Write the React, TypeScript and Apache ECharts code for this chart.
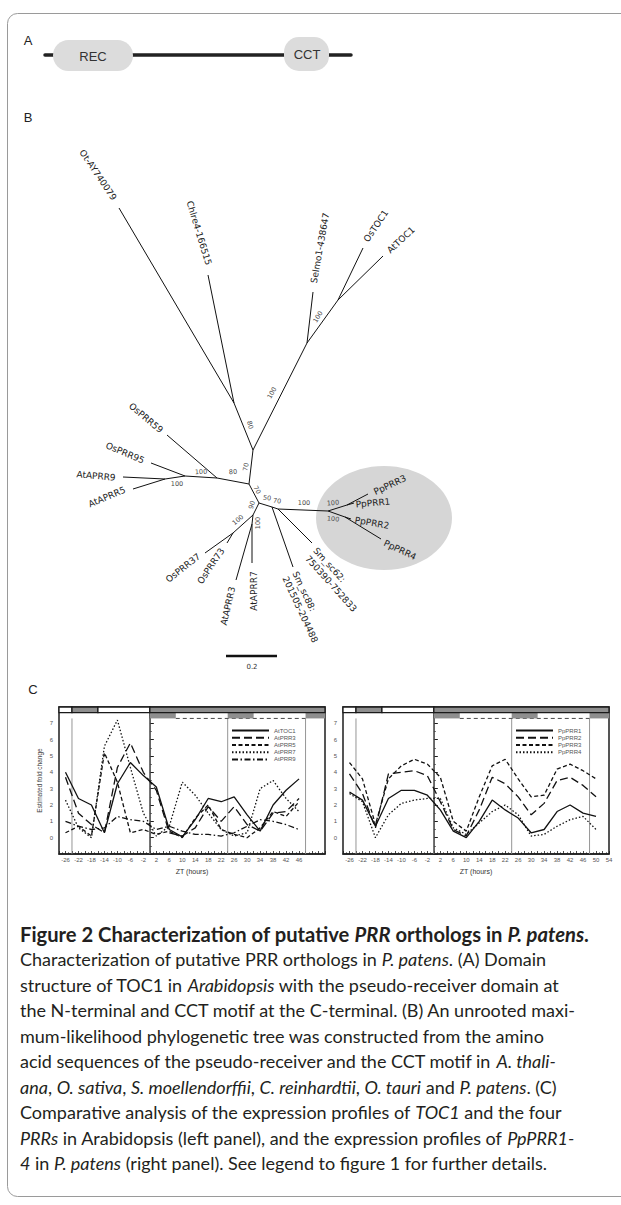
import React, { useEffect, useRef } from "react";
import * as echarts from "echarts";

const W = 621;
const H = 1205;

// ---------------- Panel C data ----------------
const hoursAt = [-26, -22, -18, -14, -10, -6, -2, 2, 6, 10, 14, 18, 22, 26, 30, 34, 38, 42, 46];
const atNames = ["AtTOC1", "AtPRR3", "AtPRR5", "AtPRR7", "AtPRR9"];
const atTOC1 = [4.0, 2.4, 2.0, 0.3, 3.3, 4.6, 3.8, 3.1, 0.5, 0.05, 1.1, 2.4, 2.2, 2.5, 1.4, 0.4, 2.0, 2.9, 3.6];
const atPRR3 = [3.7, 1.5, 0.8, 0.3, 4.3, 5.8, 4.0, 2.9, 0.3, 0.1, 0.6, 1.9, 1.0, 1.9, 0.8, 0.4, 1.5, 1.6, 2.4];
const atPRR5 = [0.3, 0.7, 0.1, 5.2, 3.4, 0.3, 0.5, 0.2, 0.4, 0.0, 1.2, 2.0, 0.5, 0.2, 0.0, 0.6, 1.6, 1.3, 2.2];
const atPRR7 = [2.3, 0.6, 0.0, 5.6, 7.2, 4.3, 1.5, 0.1, 0.7, 3.4, 2.6, 1.5, 0.5, 0.1, 0.3, 3.0, 3.5, 2.4, 1.6];
const atPRR9 = [1.0, 0.7, 0.5, 0.6, 1.3, 1.1, 1.0, 0.5, 0.7, 0.4, 0.2, 0.2, 0.1, 0.3, 0.7, 1.1, 1.0, 0.8, 0.5];

const hoursPp = [-26, -22, -18, -14, -10, -6, -2, 2, 6, 10, 14, 18, 22, 26, 30, 34, 38, 42, 46, 50];
const ppNames = ["PpPRR1", "PpPRR2", "PpPRR3", "PpPRR4"];
const ppPRR1 = [2.8, 2.3, 0.7, 2.4, 2.9, 2.9, 2.6, 1.7, 0.4, 0.0, 1.0, 2.3, 1.7, 1.2, 0.3, 0.5, 1.6, 2.0, 1.5, 1.3];
const ppPRR2 = [3.9, 2.7, 0.6, 3.9, 4.0, 4.1, 3.8, 2.2, 0.5, 0.1, 1.7, 3.7, 3.3, 2.5, 1.4, 2.1, 3.5, 3.7, 3.2, 2.5];
const ppPRR3 = [4.6, 3.6, 0.8, 3.6, 4.4, 4.8, 4.5, 3.7, 1.0, 0.4, 2.5, 4.4, 4.8, 3.6, 2.5, 2.6, 4.2, 4.5, 4.1, 3.6];
const ppPRR4 = [2.7, 2.2, 0.0, 1.4, 2.1, 2.3, 2.4, 2.4, 0.6, 0.2, 0.9, 1.6, 2.0, 1.4, 0.1, 0.2, 0.7, 1.1, 1.3, 0.5];

const xLabelsAt = [-26, -22, -18, -14, -10, -6, -2, 2, 6, 10, 14, 18, 22, 26, 30, 34, 38, 42, 46];
const xLabelsPp = [-26, -22, -18, -14, -10, -6, -2, 2, 6, 10, 14, 18, 22, 26, 30, 34, 38, 42, 46, 50, 54];
const yLabels = [0, 1, 2, 3, 4, 5, 6, 7];

// light regime: [start, end, dark(1)/light(0)]
const lightRegime = [
  [-28, -24, 0],
  [-24, -16, 1],
  [-16, 0, 0],
  [0, 54, 1],
];
const subjectiveNights = [
  [0, 8],
  [24, 32],
  [48, 54],
];
const dashedSpans = [[8, 48]];
const dayBoundaries = [-24, 0, 24, 48];

// ---------------- Panel B (tree) data ----------------
const leafNames = [
  "Ot-AY740079", "Chlre4-166515", "Selmo1-438647", "OsTOC1", "AtTOC1",
  "OsPRR59", "OsPRR95", "AtAPRR9", "AtAPRR5", "OsPRR37", "OsPRR73",
  "AtAPRR3", "AtAPRR7", "PpPRR3", "PpPRR1", "PpPRR2", "PpPRR4",
];
const smLabels = [["Sm_sc88:", "201505-204488"], ["Sm_sc62:", "750390-752833"]];
const bootstrapValues = [80, 100, 100, 70, 80, 100, 100, 70, 90, 100, 100, 50, 70, 100, 100, 100];
const scaleBarLabel = "0.2";

// tree layout (pixel positions)
const nodePos: Record<string, [number, number]> = {
  N1: [234, 403], N2: [253, 450], R1: [307, 343], R2: [338, 300], N3: [249, 484],
  N4: [217, 478], N5: [185, 476], N6: [165, 479], N7: [259, 503], N8: [253, 515],
  N9: [233, 533], N10: [252, 524], N11: [272, 507], N12: [278, 509], N13: [328, 511],
  N14: [347, 505], N15: [345, 517],
  Ot: [119, 208], Chlre: [208, 275], Selmo: [313, 292], OsTOC1: [363, 248], AtTOC1: [383, 256],
  OsPRR59: [167, 435], OsPRR95: [151, 463], AtAPRR9: [123, 477], AtAPRR5: [133, 489],
  OsPRR37: [205, 553], OsPRR73: [227, 543], AtAPRR3: [236, 580], AtAPRR7: [252, 563],
  Sm88: [293, 567], Sm62: [312, 543], PpPRR3: [368, 494], PpPRR1: [354, 503],
  PpPRR2: [351, 519], PpPRR4: [381, 539],
};
const edges: [string, string][] = [
  ["N2", "N1"], ["N1", "Ot"], ["N1", "Chlre"], ["N2", "R1"], ["R1", "Selmo"], ["R1", "R2"],
  ["R2", "OsTOC1"], ["R2", "AtTOC1"], ["N2", "N3"], ["N3", "N4"], ["N4", "OsPRR59"], ["N4", "N5"],
  ["N5", "OsPRR95"], ["N5", "N6"], ["N6", "AtAPRR9"], ["N6", "AtAPRR5"], ["N3", "N7"], ["N7", "N8"],
  ["N8", "N9"], ["N9", "OsPRR37"], ["N9", "OsPRR73"], ["N8", "N10"], ["N10", "AtAPRR3"],
  ["N10", "AtAPRR7"], ["N7", "N11"], ["N11", "Sm88"], ["N11", "N12"], ["N12", "Sm62"],
  ["N12", "N13"], ["N13", "N14"], ["N14", "PpPRR3"], ["N14", "PpPRR1"], ["N13", "N15"],
  ["N15", "PpPRR2"], ["N15", "PpPRR4"],
];
// leaf label layout: [cx, cy, rotationDeg]
const leafLayout: [number, number, number][] = [
  [98, 175, -56], [199, 233, -73], [320, 248, 80], [376, 226, 56], [401, 240, 43],
  [146, 418, -40], [125, 453, -23], [96, 476, -5], [107, 497, 23], [183, 568, 38],
  [211, 566, 56], [228, 606, 77], [254, 591, 90], [390, 485, 25], [373, 503, 5],
  [372, 523, -10], [400, 550, -25],
];
// sm labels: anchor of first line, second line, rotation
const smLayout: [number, number, number, number, number][] = [
  [295, 572, 285, 577, -65],
  [315, 549, 307, 557, -48],
];
const bootLayout: [number, number, number][] = [
  [250, 425, -75], [272, 393, 60], [318, 317, 58], [246, 467, 80], [233, 472, 5],
  [201, 472, 3], [177, 484, 0], [257, 490, -60], [252, 505, 75], [238, 520, 40],
  [258, 523, 90], [267, 498, -8], [277, 501, -8], [304, 503, 0], [333, 503, 5], [333, 519, -5],
];

// ---------------- Caption ----------------
const captionTitle = "{b|Figure 2 Characterization of putative }{bi|PRR}{b| orthologs in }{bi|P. patens}.";
const captionLines = [
  "Characterization of putative PRR orthologs in {i|P. patens}. (A) Domain",
  "structure of TOC1 in {i|Arabidopsis} with the pseudo-receiver domain at",
  "the N-terminal and CCT motif at the C-terminal. (B) An unrooted maxi-",
  "mum-likelihood phylogenetic tree was constructed from the amino",
  "acid sequences of the pseudo-receiver and the CCT motif in {i|A. thali-}",
  "{i|ana}, {i|O. sativa}, {i|S. moellendorffii}, {i|C. reinhardtii}, {i|O. tauri} and {i|P. patens}. (C)",
  "Comparative analysis of the expression profiles of {i|TOC1} and the four",
  "{i|PRRs} in Arabidopsis (left panel), and the expression profiles of {i|PpPRR1-}",
  "{i|4} in {i|P. patens} (right panel). See legend to figure 1 for further details.",
];

const rad = (d: number) => (d * Math.PI) / 180;
const INK = "#1e1e1e";
const BAR_TOP = 8;
const BAR_MID = 7.65;
const BAR_BOT = 7.3;
const Y_MIN = -1;

function buildOption() {
  const graphic: any[] = [];
  // frame
  graphic.push({
    type: "rect",
    shape: { x: 7.5, y: 13.5, width: 700, height: 1183, r: 10 },
    style: { fill: "none", stroke: "#9a9a9a", lineWidth: 1 },
  });
  const panelFont = { fontFamily: "Liberation Sans", fontSize: 13, fill: "#222" };
  graphic.push({ type: "text", x: 28, y: 40, style: { ...panelFont, text: "A", align: "center", verticalAlign: "middle" } });
  graphic.push({ type: "text", x: 28, y: 117, style: { ...panelFont, text: "B", align: "center", verticalAlign: "middle" } });
  graphic.push({ type: "text", x: 33, y: 689, style: { ...panelFont, text: "C", align: "center", verticalAlign: "middle" } });

  // Panel A
  graphic.push({
    type: "line",
    shape: { x1: 45, y1: 55, x2: 351, y2: 55 },
    style: { stroke: "#222", lineWidth: 3.5, lineCap: "round" },
  });
  graphic.push({ type: "rect", shape: { x: 53, y: 40, width: 80, height: 31, r: 15.5 }, style: { fill: "#dcdcdc" } });
  graphic.push({ type: "rect", shape: { x: 284, y: 37, width: 45, height: 34, r: 15 }, style: { fill: "#dcdcdc" } });
  graphic.push({ type: "text", x: 93, y: 56, style: { ...panelFont, fill: "#333", text: "REC", align: "center", verticalAlign: "middle" } });
  graphic.push({ type: "text", x: 307, y: 54, style: { ...panelFont, fill: "#333", text: "CCT", align: "center", verticalAlign: "middle" } });

  // Panel B: ellipse highlight
  graphic.push({ type: "ellipse", shape: { cx: 384, cy: 518, rx: 68, ry: 52 }, style: { fill: "#d6d6d6" } });
  edges.forEach(([a, b]) => {
    const p = nodePos[a];
    const q = nodePos[b];
    graphic.push({
      type: "line",
      shape: { x1: p[0], y1: p[1], x2: q[0], y2: q[1] },
      style: { stroke: "#111", lineWidth: 1 },
    });
  });
  const leafFont = { fontFamily: "DejaVu Sans", fontSize: 9, fill: "#222" };
  leafNames.forEach((name, i) => {
    const [x, y, r] = leafLayout[i];
    graphic.push({
      type: "text", x, y, rotation: rad(r),
      style: { ...leafFont, text: name, align: "center", verticalAlign: "middle" },
    });
  });
  smLabels.forEach((lines, i) => {
    const [x1, y1, x2, y2, r] = smLayout[i];
    graphic.push({ type: "text", x: x1, y: y1, rotation: rad(r), style: { ...leafFont, text: lines[0], align: "left", verticalAlign: "middle" } });
    graphic.push({ type: "text", x: x2, y: y2, rotation: rad(r), style: { ...leafFont, text: lines[1], align: "left", verticalAlign: "middle" } });
  });
  bootstrapValues.forEach((v, i) => {
    const [x, y, r] = bootLayout[i];
    graphic.push({
      type: "text", x, y, rotation: rad(r),
      style: { fontFamily: "DejaVu Sans", fontSize: 6.5, fill: "#4a4a4a", text: String(v), align: "center", verticalAlign: "middle" },
    });
  });
  graphic.push({ type: "line", shape: { x1: 226, y1: 656, x2: 277, y2: 656 }, style: { stroke: "#111", lineWidth: 2.5 } });
  graphic.push({
    type: "text", x: 252, y: 667,
    style: { fontFamily: "DejaVu Sans", fontSize: 7, fill: "#333", text: scaleBarLabel, align: "center", verticalAlign: "middle" },
  });

  // Caption
  const capFont = "Lato";
  const capSize = 18;
  const titleSize = 20.2;
  graphic.push({
    type: "text", x: 20, y: 934,
    style: {
      text: captionTitle, fontFamily: capFont, fontSize: titleSize, fontWeight: "bold", fill: "#231f20", verticalAlign: "middle",
      rich: {
        b: { fontFamily: capFont, fontSize: titleSize, fontWeight: "bold", fill: "#231f20" },
        bi: { fontFamily: capFont, fontSize: titleSize, fontWeight: "bold", fontStyle: "italic", fill: "#231f20" },
      },
    },
  });
  captionLines.forEach((line, i) => {
    graphic.push({
      type: "text", x: 20, y: 959 + i * 25.5,
      style: {
        text: line, fontFamily: capFont, fontSize: capSize, fill: "#231f20", verticalAlign: "middle",
        rich: { i: { fontFamily: capFont, fontSize: capSize, fontStyle: "italic", fill: "#231f20" } },
      },
    });
  });

  // ---------- charts ----------
  const grids = [
    { left: 59, top: 707, width: 266, height: 147 },
    { left: 343, top: 707, width: 266, height: 147 },
  ];
  const axisText = { fontFamily: "Liberation Sans", fontSize: 6, color: "#555" };
  const mkX = (gi: number, labels: number[]) => ({
    type: "value", gridIndex: gi, min: -28, max: 54, interval: 2,
    name: "ZT (hours)", nameLocation: "middle", nameGap: 14,
    nameTextStyle: { fontFamily: "Liberation Sans", fontSize: 7, color: "#333" },
    axisLine: { show: true, onZero: false, lineStyle: { color: INK, width: 1.5 } },
    axisTick: { show: true, inside: true, length: 3, lineStyle: { color: INK, width: 0.8 } },
    minorTick: { show: true, splitNumber: 2, length: 1.8, lineStyle: { color: INK, width: 0.6 } },
    axisLabel: { ...axisText, margin: 3, customValues: labels, formatter: (v: number) => String(v) },
    splitLine: { show: false },
  });
  const mkY = (gi: number, withName: boolean) => ({
    type: "value", gridIndex: gi, min: Y_MIN, max: 8, interval: 1,
    name: withName ? "Estimated fold change" : "", nameLocation: "middle", nameGap: 16,
    nameTextStyle: { fontFamily: "Liberation Sans", fontSize: 6.5, color: "#444" },
    axisLine: { show: true, lineStyle: { color: INK, width: 1.5 } },
    axisTick: { show: true, inside: true, length: 4, lineStyle: { color: INK, width: 1 } },
    minorTick: { show: true, splitNumber: 2, length: 2, lineStyle: { color: INK, width: 0.7 } },
    axisLabel: { ...axisText, margin: 6, customValues: yLabels, formatter: (v: number) => String(v) },
    splitLine: { show: false },
  });

  const decorItems: number[][] = [
    ...dayBoundaries.map((h) => [h, h, 0]),
    ...dashedSpans.map(([a, b]) => [a, b, 4]),
    ...subjectiveNights.map(([a, b]) => [a, b, 3]),
    ...lightRegime.map(([a, b, d]) => [a, b, d ? 2 : 1]),
  ];
  const renderDecor = (params: any, api: any) => {
    const x0 = api.value(0);
    const x1 = api.value(1);
    const kind = api.value(2);
    if (kind === 0) {
      const p = api.coord([x0, Y_MIN]);
      const q = api.coord([x0, BAR_BOT]);
      return { type: "line", shape: { x1: p[0], y1: p[1], x2: q[0], y2: q[1] }, style: { stroke: "#8a8a8a", lineWidth: 0.9 } };
    }
    if (kind === 4) {
      const p = api.coord([x0, BAR_BOT]);
      const q = api.coord([x1, BAR_BOT]);
      return { type: "line", shape: { x1: p[0], y1: p[1], x2: q[0], y2: q[1] }, style: { stroke: "#333", lineWidth: 0.9, lineDash: [4, 3] } };
    }
    if (kind === 3) {
      const p = api.coord([x0, BAR_MID]);
      const q = api.coord([x1, BAR_BOT]);
      return { type: "rect", shape: { x: p[0], y: p[1], width: q[0] - p[0], height: q[1] - p[1] }, style: { fill: "#8e8e8e" } };
    }
    const p = api.coord([x0, BAR_TOP]);
    const q = api.coord([x1, BAR_MID]);
    return {
      type: "rect",
      shape: { x: p[0], y: p[1], width: q[0] - p[0], height: q[1] - p[1] },
      style: { fill: kind === 2 ? "#8e8e8e" : "#ffffff", stroke: "#1a1a1a", lineWidth: 1.3 },
    };
  };

  const dashes: any[] = ["solid", [8, 4], [4, 2.5], [1.5, 2], [6, 2.5, 1.5, 2.5]];
  const atSeriesVals = [atTOC1, atPRR3, atPRR5, atPRR7, atPRR9];
  const ppSeriesVals = [ppPRR1, ppPRR2, ppPRR3, ppPRR4];

  const series: any[] = [];
  [0, 1].forEach((gi) => {
    series.push({
      type: "custom", name: "regime" + gi, xAxisIndex: gi, yAxisIndex: gi,
      data: decorItems, encode: { x: [0, 1], y: 2 }, renderItem: renderDecor, z: 1, silent: true,
    });
  });
  atNames.forEach((n, k) => {
    series.push({
      type: "line", name: n, xAxisIndex: 0, yAxisIndex: 0, symbol: "none", z: 3,
      data: hoursAt.map((h, i) => [h, atSeriesVals[k][i]]),
      lineStyle: { color: "#111", width: 1.3, type: dashes[k] },
      itemStyle: { color: "#111" },
    });
  });
  ppNames.forEach((n, k) => {
    series.push({
      type: "line", name: n, xAxisIndex: 1, yAxisIndex: 1, symbol: "none", z: 3,
      data: hoursPp.map((h, i) => [h, ppSeriesVals[k][i]]),
      lineStyle: { color: "#111", width: 1.3, type: dashes[k] },
      itemStyle: { color: "#111" },
    });
  });

  const legendBase = {
    orient: "vertical", itemWidth: 37, itemHeight: 9, itemGap: 0, padding: 0,
    textStyle: { fontFamily: "Liberation Sans", fontSize: 6, color: "#555" },
    itemStyle: { opacity: 0 },
    selectedMode: false,
  };

  return {
    animation: false,
    backgroundColor: "#ffffff",
    textStyle: { fontFamily: "Liberation Sans" },
    grid: grids.map((g) => ({ ...g, show: true, borderColor: INK, borderWidth: 1.5, backgroundColor: "transparent", containLabel: false })),
    xAxis: [mkX(0, xLabelsAt), mkX(1, xLabelsPp)],
    yAxis: [mkY(0, true), mkY(1, false)],
    legend: [
      { ...legendBase, data: atNames, left: 231, top: 727 },
      { ...legendBase, data: ppNames, left: 515, top: 727 },
    ],
    series,
    graphic,
  };
}

export default function App() {
  const ref = useRef<HTMLDivElement>(null);
  useEffect(() => {
    if (!ref.current) return;
    const chart = echarts.init(ref.current, null, { renderer: "svg" });
    chart.setOption(buildOption() as any);
    return () => chart.dispose();
  }, []);
  return (
    <div
      ref={ref}
      style={{ position: "absolute", left: 0, top: 0, width: W, height: H, background: "#fff" }}
    />
  );
}
